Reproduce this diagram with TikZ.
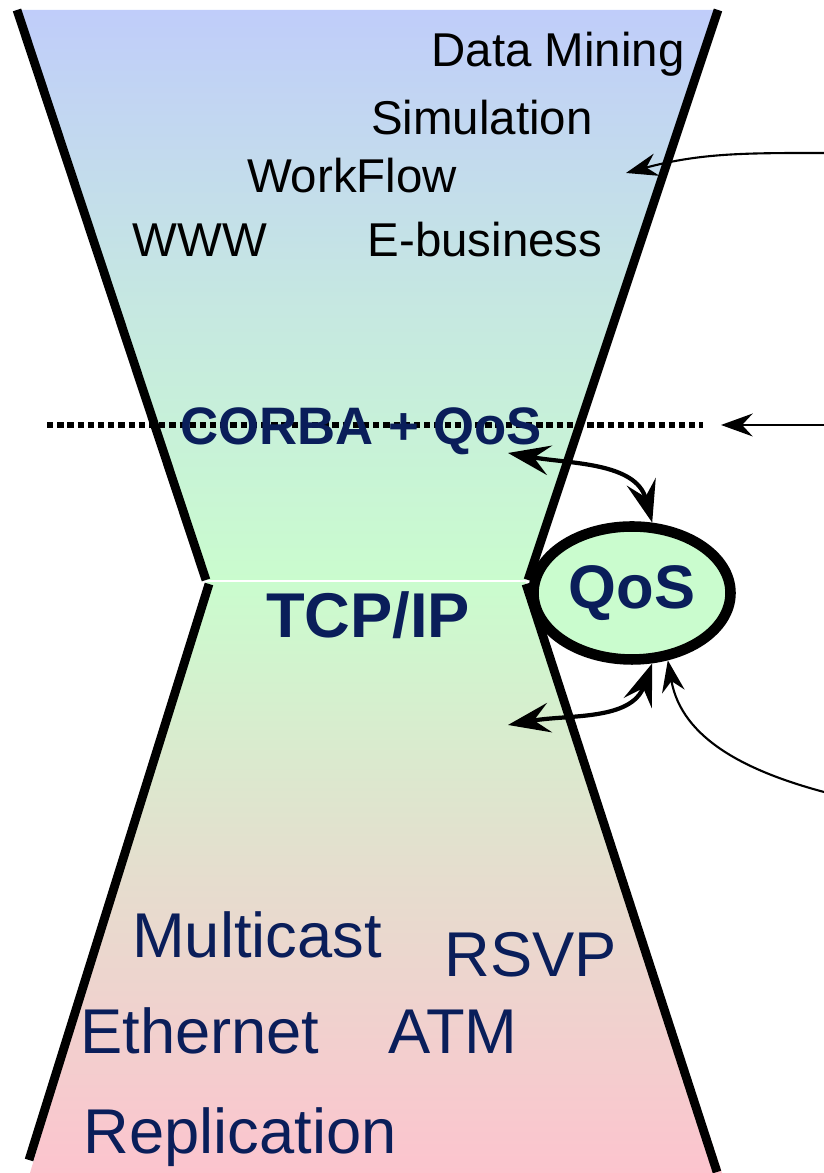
\documentclass[tikz,border=0pt]{standalone}
\usepackage{fontspec}
\setmainfont{Liberation Sans}
\usetikzlibrary{arrows.meta,shapes.geometric}
\definecolor{topblue}{RGB}{192,205,250}
\definecolor{midgreen}{RGB}{202,252,206}
\definecolor{lowpink}{RGB}{252,196,206}
\definecolor{navy}{RGB}{10,30,90}

\begin{document}
\begin{tikzpicture}[>=Stealth,
  wall/.style={line width=2.5pt},
  upper/.style={anchor=base,inner sep=0pt,font=\fontsize{13.5}{16}\selectfont},
  lower/.style={anchor=base,inner sep=0pt,text=navy,font=\fontsize{18}{21}\selectfont},
  thinarrow/.style={line width=0.6pt,-{Stealth[length=9pt,width=6.5pt,inset=3pt]}},
  dblarrow/.style={line width=1.2pt,{Stealth[length=12pt,width=8.5pt,inset=4.5pt]}-{Stealth[length=12pt,width=8.5pt,inset=4.5pt]}}]
  % Page size
  \useasboundingbox (0,0) rectangle (8.24,11.73);
  %
  % Hourglass corners
  \coordinate (tl) at (0.15,11.63);
  \coordinate (tr) at (7.20,11.63);
  \coordinate (wl) at (2.07,5.92);
  \coordinate (wr) at (5.25,5.92);
  \coordinate (bl) at (0.30,0);
  \coordinate (br) at (7.22,0);
  %
  % Fills
  \shade[top color=topblue,bottom color=midgreen,middle color=topblue!45!midgreen]
    (tl) -- (tr) -- (wr) -- (wl) -- cycle;
  \shade[top color=midgreen,bottom color=lowpink,middle color=lowpink!55!midgreen]
    (wl) -- (wr) -- (br) -- (bl) -- cycle;
  \draw[white,line width=0.6pt] (wl) -- (wr);
  %
  % Walls
  \draw[wall] (0.17,11.63) -- (2.06,5.93);
  \draw[wall] (7.18,11.63) -- (5.28,5.93);
  \draw[wall] (2.09,5.89) -- (0.29,0.13);
  \draw[wall] (5.26,5.89) -- (7.17,0.01);
  %
  % Application layer
  \node[upper] (datamining) at (5.58,11.06) {Data Mining};
  \node[upper] (simulation) at (4.82,10.38) {Simulation};
  \node[upper] (workflow)   at (3.52,9.80)  {WorkFlow};
  \node[upper] (www)        at (2.00,9.16)  {WWW};
  \node[upper] (ebusiness)  at (4.85,9.16)  {E-business};
  %
  % Middleware line
  \draw[line width=1.6pt,dash pattern=on 1.8pt off 1.1pt] (0.47,7.48) -- (7.03,7.48);
  \node[anchor=base,inner sep=0pt,text=navy,font=\fontsize{15}{18}\selectfont\bfseries]
    (corba) at (3.61,7.28) {CORBA + QoS};
  \node[anchor=base,inner sep=0pt,text=navy,font=\fontsize{18}{21}\selectfont\bfseries]
    (tcpip) at (3.68,5.35) {TCP/IP};
  %
  % QoS
  \node[ellipse,draw,line width=3pt,fill=midgreen,minimum width=1.97cm,minimum height=1.33cm,
    inner sep=0pt,text=navy,font=\fontsize{17.5}{20}\selectfont\bfseries] (qos) at (6.32,5.80) {QoS};
  %
  % Network layer
  \node[lower] (multicast)   at (2.57,2.15) {Multicast};
  \node[lower] (rsvp)        at (5.31,1.96) {RSVP};
  \node[lower] (ethernet)    at (2.00,1.19) {Ethernet};
  \node[lower] (atm)         at (4.53,1.19) {ATM};
  \node[lower] (replication) at (2.40,0.20) {Replication};
  %
  % Arrows
  \coordinate (appsrc)  at (8.24,10.20);
  \coordinate (apptip)  at (6.26,10.00);
  \coordinate (midsrc)  at (8.24,7.48);
  \coordinate (midtip)  at (7.21,7.48);
  \coordinate (netsrc)  at (8.24,3.81);
  \coordinate (corbatip) at (5.08,7.20);
  \coordinate (tcptip)   at (5.08,4.48);
  \draw[thinarrow] (appsrc) to[out=180,in=15] (apptip);
  \draw[thinarrow] (midsrc) -- (midtip);
  \draw[thinarrow] (netsrc) to[out=165,in=-80] (qos.-62);
  \draw[dblarrow] (corbatip) to[out=-10,in=105] (qos.74);
  \draw[dblarrow] (tcptip) to[out=10,in=-110] (qos.-74);
  %
\end{tikzpicture}
\end{document}
